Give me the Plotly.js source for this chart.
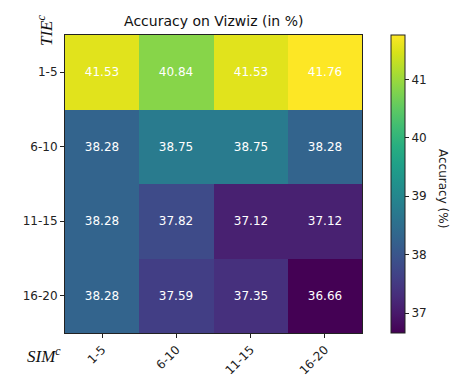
<!DOCTYPE html>
<html>
<head>
<meta charset="utf-8">
<script src="https://cdn.plot.ly/plotly-3.0.1.min.js"></script>
<style>html,body{margin:0;padding:0;background:#fff;}#chart{width:450px;height:378px;}</style>
</head>
<body>
<div id="chart"></div>
<script>
const simLabels = ["1-5", "6-10", "11-15", "16-20"];
const tieLabels = ["1-5", "6-10", "11-15", "16-20"];
const accuracy = [
  [41.53, 40.84, 41.53, 41.76],
  [38.28, 38.75, 38.75, 38.28],
  [38.28, 37.82, 37.12, 37.12],
  [38.28, 37.59, 37.35, 36.66]
];
const cbTicks = [37, 38, 39, 40, 41];

const font = "DejaVu Sans, sans-serif";
const trace = {
  type: "heatmap",
  x: simLabels,
  y: tieLabels,
  z: accuracy,
  colorscale: "Viridis",
  zmin: 36.66,
  zmax: 41.76,
  xgap: 0, ygap: 0,
  texttemplate: "%{z:.2f}",
  textfont: {color: "white", size: 12, family: font},
  hoverinfo: "skip",
  colorbar: {
    x: 1.0976, xanchor: "left", xref: "paper",
    y: 0.5, yanchor: "middle", len: 1, lenmode: "fraction",
    thickness: 14, thicknessmode: "pixels",
    xpad: 0, ypad: 0,
    outlinewidth: 1, outlinecolor: "#222",
    tickmode: "array", tickvals: cbTicks, ticktext: cbTicks.map(String),
    ticks: "outside", ticklen: 4, tickwidth: 1, tickcolor: "#222",
    tickfont: {size: 12, family: font, color: "#222"}
  }
};

const layout = {
  width: 450, height: 378,
  margin: {l: 65, r: 88, t: 35, b: 45, pad: 0},
  paper_bgcolor: "white", plot_bgcolor: "white",
  font: {family: font, color: "#222"},
  title: {text: "Accuracy on Vizwiz (in %)", font: {size: 14, family: font, color: "#111"},
          x: 0.475, xanchor: "center", y: 0.945, yanchor: "middle"},
  xaxis: {
    type: "category", tickangle: -45, ticks: "outside", ticklen: 4, tickcolor: "#222",
    showline: true, mirror: true, linecolor: "#222", linewidth: 1,
    showgrid: false, zeroline: false, tickfont: {size: 12, family: font, color: "#222"}
  },
  yaxis: {
    type: "category", autorange: "reversed", ticks: "outside", ticklen: 4, tickcolor: "#222",
    showline: true, mirror: true, linecolor: "#222", linewidth: 1,
    showgrid: false, zeroline: false, tickfont: {size: 12, family: font, color: "#222"}
  },
  annotations: [
    {text: "<i>TIE</i><sup><i>c</i></sup>", xref: "paper", yref: "paper",
     x: (45 - 65) / 297, y: (333 - 30) / 298, xanchor: "center", yanchor: "middle",
     textangle: -90, showarrow: false,
     font: {family: "Liberation Serif, DejaVu Serif, serif", size: 17, color: "#111"}},
    {text: "<i>SIM</i><sup><i>c</i></sup>", xref: "paper", yref: "paper",
     x: (44 - 65) / 297, y: (333 - 355) / 298, xanchor: "center", yanchor: "middle",
     showarrow: false,
     font: {family: "Liberation Serif, DejaVu Serif, serif", size: 17, color: "#111"}},
    {text: "Accuracy (%)", xref: "paper", yref: "paper",
     x: (443 - 65) / 297, y: (333 - 188) / 298, xanchor: "center", yanchor: "middle",
     textangle: 90, showarrow: false,
     font: {family: font, size: 12, color: "#222"}}
  ]
};

Plotly.newPlot("chart", [trace], layout, {displayModeBar: false, staticPlot: true});
</script>
</body>
</html>
